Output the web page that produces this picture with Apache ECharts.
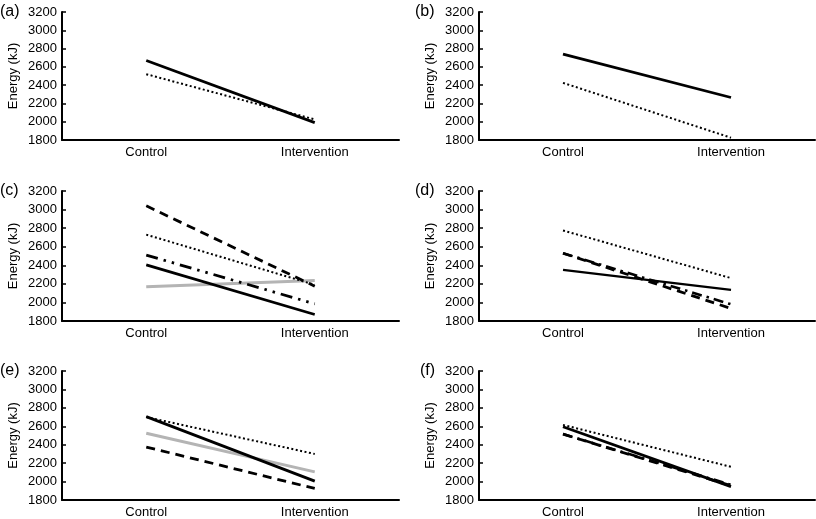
<!DOCTYPE html>
<html><head><meta charset="utf-8">
<script src="https://cdn.jsdelivr.net/npm/echarts@6/dist/echarts.min.js"></script>
<style>html,body{margin:0;padding:0;background:#fff}#c{width:816px;height:519px}</style>
</head><body><div id="c"></div>
<script>
const categories = ['Control', 'Intervention'];
const yMin = 1800, yMax = 3200, yStep = 200;
const panelLabels = ['(a)', '(b)', '(c)', '(d)', '(e)', '(f)'];
const yAxisTitle = 'Energy (kJ)';

// panel (a)
const aSolid = [2670, 1990];
const aDotted = [2520, 2025];
// panel (b)
const bSolid = [2740, 2265];
const bDotted = [2425, 1825];
// panel (c)
const cDashed = [3040, 2175];
const cDotted = [2730, 2190];
const cDashDot = [2510, 1985];
const cSolid = [2405, 1870];
const cGray = [2170, 2235];
// panel (d)
const dDotted = [2775, 2262];
const dDashDot = [2530, 1980];
const dDashed = [2530, 1935];
const dSolid = [2350, 2135];
// panel (e)
const eSolid = [2705, 2005];
const eDotted = [2700, 2300];
const eGray = [2525, 2105];
const eDashed = [2375, 1925];
// panel (f)
const fDotted = [2615, 2160];
const fSolid = [2595, 1945];
const fDashed = [2515, 1955];
const fDashDot = [2515, 1965];

const STY = {
  solid: {color: '#000', width: 2.8, type: 'solid'},
  solidThin: {color: '#000', width: 2.2, type: 'solid'},
  dotted: {color: '#000', width: 2, type: [2, 2.5]},
  dashed: {color: '#000', width: 2.8, type: [9, 6]},
  dashDot2: {color: '#000', width: 2.8, type: [12, 6, 2.5, 6, 2.5, 6]},
  dashDot: {color: '#000', width: 2.6, type: [10, 5, 2.5, 5]},
  gray: {color: '#b4b4b4', width: 3, type: 'solid'}
};

const panels = [
  [[aSolid, 'solid'], [aDotted, 'dotted']],
  [[bSolid, 'solid'], [bDotted, 'dotted']],
  [[cGray, 'gray'], [cDashed, 'dashed'], [cDotted, 'dotted'], [cDashDot, 'dashDot2'], [cSolid, 'solid']],
  [[dDotted, 'dotted'], [dDashed, 'dashed'], [dDashDot, 'dashDot'], [dSolid, 'solidThin']],
  [[eGray, 'gray'], [eSolid, 'solid'], [eDotted, 'dotted'], [eDashed, 'dashed']],
  [[fDotted, 'dotted'], [fDashed, 'dashed'], [fDashDot, 'dashDot'], [fSolid, 'solid']]
];

const FONT = 'Liberation Sans, Arial, sans-serif';
const rows = [{top: 12, height: 128}, {top: 191, height: 130}, {top: 371, height: 130}];
const cols = [{left: 62, width: 337}, {left: 479, width: 336}];

const grid = [], xAxis = [], yAxis = [], series = [], graphic = [];
panels.forEach((lines, i) => {
  const r = rows[Math.floor(i / 2)], c = cols[i % 2];
  grid.push({left: c.left, top: r.top, width: c.width, height: r.height});
  xAxis.push({
    type: 'category', gridIndex: i, data: categories, boundaryGap: true,
    axisLine: {lineStyle: {color: '#000', width: 2}},
    axisTick: {inside: true, length: 4, lineStyle: {color: '#000', width: 1.5}},
    axisLabel: {color: '#000', fontSize: 13, fontFamily: FONT, margin: 6}
  });
  yAxis.push({
    type: 'value', gridIndex: i, min: yMin, max: yMax, interval: yStep,
    name: yAxisTitle, nameLocation: 'middle', nameRotate: 90, nameGap: 42,
    nameTextStyle: {color: '#000', fontSize: 13, fontFamily: FONT},
    axisLine: {show: true, lineStyle: {color: '#000', width: 2}},
    axisTick: {show: true, inside: true, length: 4, lineStyle: {color: '#000', width: 1.5}},
    axisLabel: {color: '#000', fontSize: 13, fontFamily: FONT, margin: 5, formatter: v => String(v)},
    splitLine: {show: false}
  });
  lines.forEach(([vals, st]) => {
    series.push({
      type: 'line', xAxisIndex: i, yAxisIndex: i, data: vals,
      symbol: 'none', lineStyle: STY[st], silent: true, animation: false
    });
  });
  graphic.push({
    type: 'text', left: c.left - (i % 2 ? 64 : 62) + (i === 5 ? 5 : 0), top: r.top - 8,
    style: {text: panelLabels[i], fontSize: 16, fontFamily: FONT, fill: '#000'}
  });
});

const chart = echarts.init(document.getElementById('c'), null, {renderer: 'canvas'});
chart.setOption({animation: false, grid, xAxis, yAxis, series, graphic});
</script></body></html>
